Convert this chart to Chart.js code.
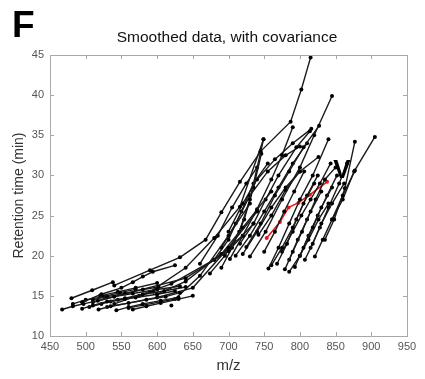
<!DOCTYPE html>
<html>
<head>
<meta charset="utf-8">
<script src="https://cdn.jsdelivr.net/npm/chart.js@4.4.1/dist/chart.umd.min.js"></script>
<style>
  body { margin: 0; background: #fff; }
</style>
</head>
<body>
<canvas id="chart" width="425" height="379"></canvas>
<script>
// tick values
const xTicks = [450, 500, 550, 600, 650, 700, 750, 800, 850, 900, 950];
const yTicks = [10, 15, 20, 25, 30, 35, 40, 45];

// low, early-eluting traces (bottom left)
const lowSeries = [
  [[467,13.3],[482,13.7],[497,14.0],[517,14.4],[540,14.9],[566,15.3],[600,15.8],[632,16.2]],
  [[480,14.7],[509,15.7],[538,16.7]],
  [[495,14.2],[522,15.2],[550,16.0],[566,16.7],[580,17.4],[594,18.0],[625,18.8]],
  [[495,13.4],[510,13.8],[530,14.3],[555,14.7],[580,15.2],[610,15.6],[640,16.1]],
  [[505,13.6],[522,14.0],[545,14.5],[570,14.8],[600,15.2],[625,15.6]],
  [[518,13.3],[535,13.7],[560,14.1],[585,14.5],[612,14.9],[632,15.4]],
  [[510,14.5],[530,14.9],[555,15.3],[580,15.8],[602,16.1]],
  [[543,13.2],[560,13.6],[580,14.0],[605,14.4],[630,14.8]],
  [[566,13.3],[585,13.7],[605,14.1],[630,14.6],[650,15.0]],
  [[482,14.0],[500,14.5],[525,14.9],[548,15.4],[570,15.8]],
  [[520,15.0],[545,15.5],[570,16.0],[600,16.6]],
  [[535,14.3],[555,14.6],[575,15.0],[595,15.5]],
  [[620,13.8]]
];

// long traces crossing from the low cluster into the middle band
const crossSeries = [
  [[540,16.3],[590,18.2],[632,19.8],[668,22.0],[690,25.4],[716,29.2],[745,33.0],[787,36.7],[802,40.7],[815,44.7]],
  [[590,15.5],[640,18.5],[680,22.2],[716,26.1],[749,34.5]],
  [[530,13.6],[600,14.8],[650,16.0],[700,21.0],[740,25.5]],
  [[560,13.5],[625,14.6],[660,17.5],[700,22.5],[730,26.5]],
  [[600,15.2],[640,16.8],[690,20.2],[720,23.5],[760,28.0]],
  [[510,14.2],[640,17.2],[700,20.6],[735,24.0]],
  [[540,14.0],[620,16.5],[680,19.5],[720,22.5]]
];

// middle band
const midSeries = [
  [[674,17.8],[695,20.0],[715,23.0],[730,27.0],[749,34.5]],
  [[690,18.5],[705,21.0],[722,24.5],[735,28.5],[746,32.7]],
  [[702,19.6],[720,22.5],[740,25.8],[760,29.5],[775,32.5],[790,36.0]],
  [[716,21.5],[735,24.0],[752,27.0],[770,30.0],[795,33.5],[814,35.5]],
  [[725,21.1],[745,24.0],[765,27.5],[785,30.5],[805,33.5],[827,36.2]],
  [[730,19.9],[752,23.0],[775,27.0],[800,31.0],[820,35.0],[845,39.9]],
  [[742,22.6],[760,25.0],[780,28.2],[800,30.5],[826,32.3]],
  [[690,21.0],[710,24.0],[730,27.5],[755,30.5],[780,32.5],[800,33.6]],
  [[700,23.0],[720,26.5],[740,29.5],[765,32.0],[790,34.0],[816,35.8]],
  [[680,19.5],[700,22.0],[718,25.5],[735,29.0],[755,31.5]],
  [[660,19.0],[685,22.5],[705,26.0],[725,29.0],[740,31.0]],
  [[710,20.0],[730,22.5],[750,25.5],[770,28.5],[790,31.5],[810,34.0]],
  [[720,20.2],[740,23.0],[760,26.0],[780,28.5],[800,30.5]],
  [[756,18.4],[770,21.0],[785,24.0],[800,27.0],[818,30.0],[840,34.5]]
];

// right band (late-eluting, higher m/z)
const rightSeries = [
  [[760,18.8],[775,21.0],[790,23.5],[805,26.5],[820,29.0]],
  [[779,18.3],[790,20.5],[803,23.0],[815,25.5],[830,28.0]],
  [[793,18.6],[805,21.0],[818,23.5],[830,26.0],[845,28.5]],
  [[807,19.5],[818,21.5],[830,24.0],[845,26.5],[862,29.0]],
  [[821,19.9],[832,22.0],[845,24.5],[860,27.5],[877,30.6]],
  [[835,22.0],[848,24.5],[863,28.4],[877,34.2]],
  [[845,24.5],[860,27.0],[876,30.5],[905,34.8]],
  [[768,19.0],[782,21.5],[795,24.5],[810,27.5],[825,30.0]],
  [[785,19.5],[797,22.0],[810,24.5],[822,27.0],[835,29.5],[850,31.0]],
  [[775,20.5],[790,23.0],[802,25.0],[815,27.0],[828,29.0],[843,31.5]],
  [[800,20.0],[812,22.5],[825,25.0],[838,27.5],[852,30.0]],
  [[750,20.5],[765,23.0],[778,25.5],[792,28.0],[806,30.5]],
  [[785,18.0],[800,20.0],[812,22.0],[826,24.5],[840,26.5]],
  [[815,21.0],[828,23.5],[840,26.0],[855,29.0],[866,31.5]]
];

// highlighted trace
const redSeries = [[753.5,22.2],[772,24.2],[784,26.0],[798,26.6],[814,27.6],[838,29.2]];

// "V" marker next to the highlighted trace
const markerPoint = [859, 30.6];

const toXY = s => s.map(p => ({ x: p[0], y: p[1] }));

const datasets = [];
[...lowSeries, ...crossSeries, ...midSeries, ...rightSeries].forEach(s => {
  datasets.push({
    data: toXY(s),
    showLine: true,
    borderColor: '#1a1a1a',
    borderWidth: 1.4,
    pointRadius: 2,
    pointBackgroundColor: '#000',
    pointBorderWidth: 0
  });
});
datasets.push({
  data: toXY(redSeries),
  showLine: true,
  borderColor: '#e8161c',
  borderWidth: 1.5,
  pointRadius: 2,
  pointBackgroundColor: '#e8161c',
  pointBorderWidth: 0
});

// box, inward ticks, panel letter, title and marker
const framePlugin = {
  id: 'frame',
  afterDraw(chart) {
    const { ctx, chartArea: a, scales: { x, y } } = chart;
    ctx.save();
    ctx.strokeStyle = '#a8a8a8';
    ctx.lineWidth = 1;
    ctx.strokeRect(a.left + 0.5, a.top + 0.5, a.right - a.left, a.bottom - a.top);
    ctx.beginPath();
    xTicks.forEach(v => {
      const px = Math.round(x.getPixelForValue(v)) + 0.5;
      ctx.moveTo(px, a.bottom); ctx.lineTo(px, a.bottom - 4);
      ctx.moveTo(px, a.top); ctx.lineTo(px, a.top + 4);
    });
    yTicks.forEach(v => {
      const py = Math.round(y.getPixelForValue(v)) + 0.5;
      ctx.moveTo(a.left, py); ctx.lineTo(a.left + 4, py);
      ctx.moveTo(a.right, py); ctx.lineTo(a.right - 4, py);
    });
    ctx.stroke();

    ctx.fillStyle = '#000';
    ctx.font = 'bold 37px "Liberation Sans", Arial, sans-serif';
    ctx.textAlign = 'left';
    ctx.textBaseline = 'alphabetic';
    ctx.fillText('F', 12, 37);

    ctx.font = '15.5px "Liberation Sans", Arial, sans-serif';
    ctx.textAlign = 'center';
    ctx.textBaseline = 'middle';
    ctx.fillStyle = '#111';
    ctx.fillText('Smoothed data, with covariance', 227, 38);

    ctx.font = 'bold 26px "Liberation Sans", Arial, sans-serif';
    ctx.fillStyle = '#000';
    ctx.fillText('V', x.getPixelForValue(markerPoint[0]), y.getPixelForValue(markerPoint[1]));
    ctx.restore();
  }
};

new Chart(document.getElementById('chart'), {
  type: 'scatter',
  data: { datasets },
  options: {
    responsive: false,
    animation: false,
    layout: { padding: { top: 55, right: 18, left: 0, bottom: 0 } },
    plugins: { legend: { display: false }, tooltip: { enabled: false } },
    scales: {
      x: {
        type: 'linear',
        min: 450, max: 950,
        afterFit: s => { s.height = 43; },
        afterBuildTicks: s => { s.ticks = xTicks.map(v => ({ value: v })); },
        grid: { display: false, drawTicks: false },
        border: { display: false },
        ticks: { padding: 4, color: '#555', font: { size: 11, family: '"Liberation Sans", Arial, sans-serif' } },
        title: { display: true, text: 'm/z', color: '#333', padding: { top: 0, bottom: 4 },
                 font: { size: 15, family: '"Liberation Sans", Arial, sans-serif' } }
      },
      y: {
        min: 10, max: 45,
        afterFit: s => { s.width = 50; },
        afterBuildTicks: s => { s.ticks = yTicks.map(v => ({ value: v })); },
        grid: { display: false, drawTicks: false },
        border: { display: false },
        ticks: { padding: 6, color: '#555', font: { size: 11, family: '"Liberation Sans", Arial, sans-serif' } },
        title: { display: true, text: 'Retention time (min)', color: '#333', padding: { top: 11, bottom: 0 },
                 font: { size: 14, family: '"Liberation Sans", Arial, sans-serif' } }
      }
    }
  },
  plugins: [framePlugin]
});
</script>
</body>
</html>
